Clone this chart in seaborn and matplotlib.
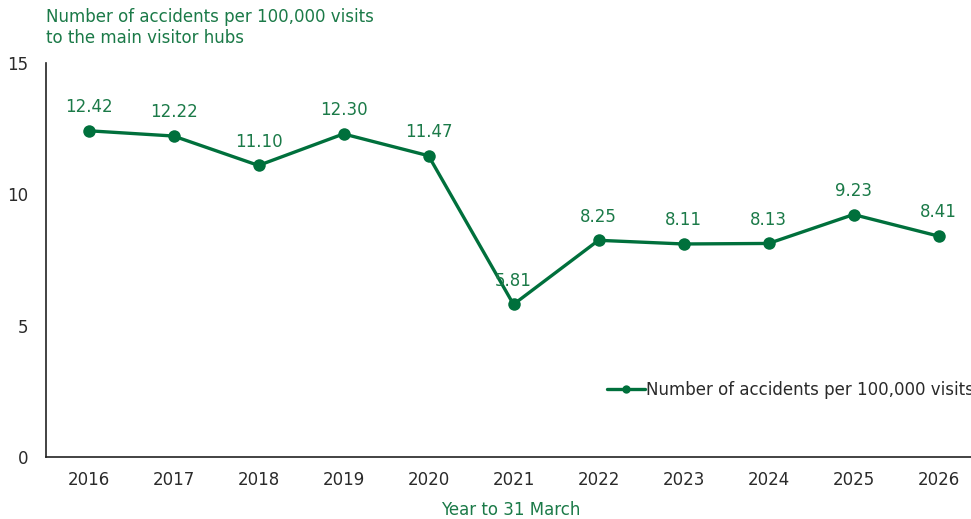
import matplotlib
matplotlib.use("Agg")
import matplotlib.pyplot as plt
from matplotlib.lines import Line2D
import seaborn as sns
import pandas as pd

years = ["2016", "2017", "2018", "2019", "2020", "2021", "2022", "2023", "2024", "2025", "2026"]
rates = [12.42, 12.22, 11.10, 12.30, 11.47, 5.81, 8.25, 8.11, 8.13, 9.23, 8.41]
y_ticks = [0, 5, 10, 15]
series_name = "Number of accidents per 100,000 visits"
title_text = "Number of accidents per 100,000 visits\nto the main visitor hubs"
x_title = "Year to 31 March"

LINE = "#00703C"
LABEL = "#1B7A48"
TEXT = "#2A2A2A"
FS = 12.0

sns.set_style("white")
plt.rcParams["font.family"] = ["DejaVu Sans"]

df = pd.DataFrame({"pos": range(len(years)), "rate": rates})

fig = plt.figure(figsize=(9.71, 5.19), dpi=100)
ax = fig.add_axes([46 / 971, 1 - 457 / 519, 935 / 971, 394 / 519])

sns.lineplot(data=df, x="pos", y="rate", ax=ax, color=LINE, linewidth=2.4,
             marker="o", markersize=9, markeredgewidth=0, legend=False)

for x, v in zip(df["pos"], df["rate"]):
    ax.annotate(f"{v:.2f}", (x, v), xytext=(0, 17), textcoords="offset points",
                ha="center", va="center", color=LABEL, fontsize=FS)

ax.set_xlim(-0.5, len(years) - 0.5)
ax.set_ylim(0, 15)
ax.set_yticks(y_ticks)
ax.set_yticklabels([str(t) for t in y_ticks])
ax.set_xticks(range(len(years)))
ax.set_xticklabels(years)
ax.set_xticks([i + 0.5 for i in range(len(years) - 1)], minor=True)
ax.tick_params(axis="x", which="major", length=0, pad=10, labelsize=FS, labelcolor=TEXT)
ax.tick_params(axis="x", which="minor", direction="in", length=4, width=1, color="#222222")
ax.tick_params(axis="y", direction="in", length=4, width=1, color="#222222",
               labelsize=FS, labelcolor=TEXT, pad=13)

for side in ["top", "right"]:
    ax.spines[side].set_visible(False)
for side in ["left", "bottom"]:
    ax.spines[side].set_color("#222222")
    ax.spines[side].set_linewidth(1.2)

ax.set_xlabel(x_title, color=LABEL, fontsize=FS, va="center")
ax.xaxis.set_label_coords(511 / 971, 1 - 510 / 519, transform=fig.transFigure)
ax.set_ylabel("")

fig.text(46 / 971, 1 - 8 / 519, title_text, ha="left", va="top",
         color=LABEL, fontsize=FS, linespacing=1.2)

handle = Line2D([], [], color=LINE, linewidth=2.4, marker="o", markersize=6,
                markeredgewidth=0)
leg = ax.legend([handle], [series_name], loc="center left",
                bbox_to_anchor=(607 / 971, 1 - 390 / 519),
                bbox_transform=fig.transFigure, frameon=False, fontsize=FS,
                handlelength=2.3, handletextpad=0.05, borderpad=0, borderaxespad=0)
for t in leg.get_texts():
    t.set_color(TEXT)

fig.savefig("out.png", dpi=100)
